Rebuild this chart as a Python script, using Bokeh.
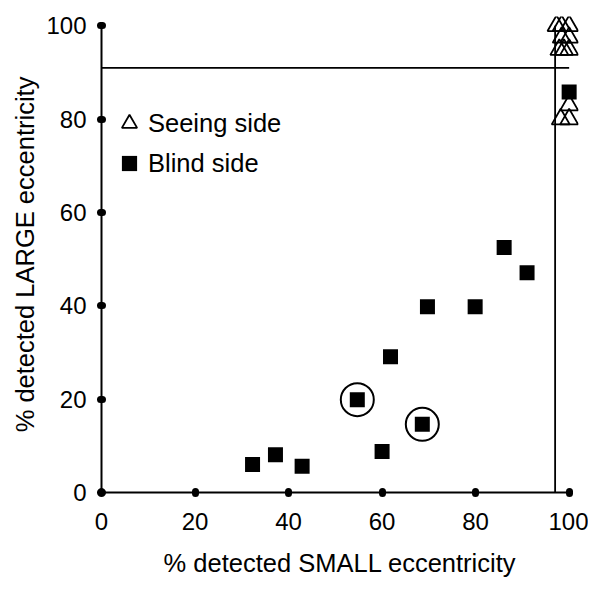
from bokeh.plotting import figure
from bokeh.models import Range1d, FixedTicker, Legend, LegendItem
from bokeh.embed import file_html
from bokeh.resources import INLINE

# ---- data ----
blind_small = [32.3, 37.2, 42.9, 54.7, 60.0, 61.8, 68.6, 69.7, 79.9, 86.1, 91.0, 100.0]
blind_large = [6.0, 8.1, 5.6, 19.9, 8.8, 29.1, 14.6, 39.8, 39.8, 52.5, 47.1, 85.8]

seeing_small = [97.3, 98.4, 100.0, 98.4, 100.0, 97.9, 98.9, 100.0, 100.0, 98.2, 100.0]
seeing_large = [100.0, 100.0, 100.0, 97.5, 97.5, 94.9, 94.9, 94.9, 83.0, 80.0, 80.0]

circled_small = [54.7, 68.6]
circled_large = [19.9, 14.6]

threshold_small = 97
threshold_large = 91

ticks = [0, 20, 40, 60, 80, 100]

FONT = "Liberation Sans"

p = figure(frame_width=477, frame_height=476,
           min_border_left=101, min_border_right=10, min_border_top=16, min_border_bottom=92,
           x_range=Range1d(0, 102), y_range=Range1d(0, 102),
           output_backend="svg", toolbar_location=None)
p.outline_line_color = None
p.xgrid.visible = False
p.ygrid.visible = False
p.background_fill_color = "white"
p.border_fill_color = "white"

# threshold lines
p.segment(x0=[0, threshold_small], y0=[threshold_large, 0],
          x1=[100, threshold_small], y1=[threshold_large, 100],
          line_color="black", line_width=1.8)

# circles around two blind points
p.scatter(circled_small, circled_large, marker="circle", size=33,
          fill_color=None, line_color="black", line_width=2)

seeing = p.scatter(seeing_small, seeing_large, marker="triangle", size=18,
                   fill_color=None, line_color="black", line_width=1.8)
blind = p.scatter(blind_small, blind_large, marker="square", size=15,
                  fill_color="black", line_color="black", line_width=0)

legend = Legend(items=[LegendItem(label="Seeing side", renderers=[seeing]),
                       LegendItem(label="Blind side", renderers=[blind])],
                location=(9, 310), orientation="vertical",
                glyph_width=38, glyph_height=38, spacing=2, padding=0, margin=0,
                label_standoff=0, label_text_font=FONT, label_text_font_size="25.5px",
                label_text_color="black", background_fill_alpha=0, border_line_color=None)
p.add_layout(legend)

for ax in (p.xaxis[0], p.yaxis[0]):
    ax.bounds = (0, 100)
    ax.ticker = FixedTicker(ticks=ticks)
    ax.minor_tick_line_color = None
    ax.axis_line_width = 2
    ax.axis_line_color = "black"
    ax.major_tick_line_width = 7
    ax.major_tick_line_cap = "round"
    ax.major_tick_in = 1
    ax.major_tick_out = 1
    ax.major_label_text_font = FONT
    ax.major_label_text_font_size = "24px"
    ax.major_label_text_color = "black"
    ax.axis_label_text_font = FONT
    ax.axis_label_text_font_size = "25.5px"
    ax.axis_label_text_font_style = "normal"
    ax.axis_label_text_color = "black"

p.xaxis.axis_label = "% detected SMALL eccentricity"
p.yaxis.axis_label = "% detected LARGE eccentricity"
p.xaxis.major_label_standoff = 19
p.yaxis.major_label_standoff = 14
p.xaxis.axis_label_standoff = 16
p.yaxis.axis_label_standoff = 4

open("out.html", "w").write(file_html(p, INLINE))
